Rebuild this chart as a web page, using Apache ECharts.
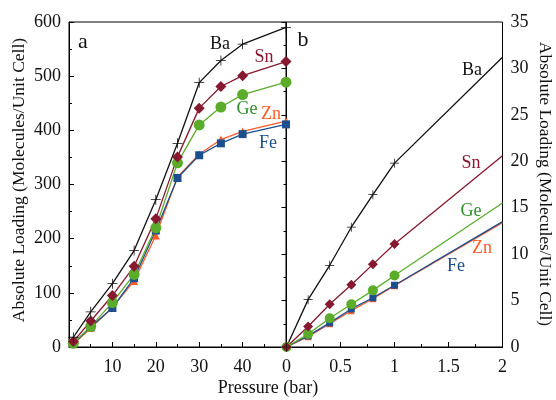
<!DOCTYPE html>
<html>
<head>
<meta charset="utf-8">
<script src="https://cdn.jsdelivr.net/npm/echarts@6/dist/echarts.min.js"></script>
<style>html,body{margin:0;padding:0;background:#fff}#c{width:556px;height:400px}</style>
</head>
<body>
<div id="c"></div>
<script>
// Panel a: pressure (bar) 0-50
const pressureA = [1, 5, 10, 15, 20, 25, 30, 35, 40, 50];
const baA = [18, 65, 117, 178, 272, 376, 488, 529, 559, 590];
const snA = [10, 48, 95, 149, 237, 351, 441, 481, 501, 527];
const geA = [7, 38, 82, 134, 220, 340, 410, 443, 466, 489];
const znA = [5, 35, 73, 122, 206, 314, 356, 383, 398, 417];
const feA = [6, 37, 72, 127, 215, 312, 354, 376, 393, 411];
// Panel b: pressure (bar) 0-2
const pressureB = [0, 0.2, 0.4, 0.6, 0.8, 1.0, 2.0];
const baB = [0, 5.1, 8.8, 12.9, 16.4, 19.8, 31.2];
const snB = [0, 2.2, 4.6, 6.7, 8.9, 11.1, 20.6];
const geB = [0, 1.4, 3.1, 4.6, 6.1, 7.7, 15.5];
const znB = [0, 1.1, 2.5, 3.9, 5.2, 6.6, 13.4];
const feB = [0, 1.2, 2.6, 4.1, 5.3, 6.65, 13.5];
const xTicksA = [10, 20, 30, 40];
const names = ['Ba', 'Sn', 'Ge', 'Zn', 'Fe'];

const FONT = '"Liberation Serif", "DejaVu Serif", serif';
const colors = {Ba: '#111111', Sn: '#86182f', Ge: '#5aac2a', Zn: '#ff5a26', Fe: '#1c4f8e'};
const labelColors = {Ba: '#111111', Sn: '#86182f', Ge: '#2f8f2a', Zn: '#ff5a26', Fe: '#1c4f8e'};
const plusPath = 'path://M4.6,0h0.8v10h-0.8z M0,4.6h10v0.8h-10z';
const symbols = {Ba: plusPath, Sn: 'diamond', Ge: 'circle', Zn: 'triangle', Fe: 'rect'};
const sizes = {Ba: 10, Sn: 11, Ge: 11, Zn: 8, Fe: 8};

function mk(xs, ys) { return xs.map((x, i) => [x, ys[i]]); }
const dataA = {Ba: baA, Sn: snA, Ge: geA, Zn: znA, Fe: feA};
const dataB = {Ba: baB, Sn: snB, Ge: geB, Zn: znB, Fe: feB};

const order = ['Zn', 'Fe', 'Ge', 'Sn', 'Ba'];
const series = [];
order.forEach(n => {
  series.push({
    type: 'line', name: n, xAxisIndex: 0, yAxisIndex: 0,
    data: mk(pressureA, dataA[n]), symbol: symbols[n], symbolSize: sizes[n],
    showAllSymbol: true, clip: false,
    lineStyle: {color: colors[n], width: 1.3}, itemStyle: {color: colors[n]}, animation: false
  });
  series.push({
    type: 'line', name: n + 'b', xAxisIndex: 1, yAxisIndex: 1,
    data: mk(pressureB, dataB[n]).map((d, i) => i === pressureB.length - 1 ? {value: d, symbolSize: 0} : d),
    symbol: symbols[n], symbolSize: sizes[n] - 1, showAllSymbol: true,
    lineStyle: {color: colors[n], width: 1.3}, itemStyle: {color: colors[n]}, animation: false
  });
});

const axisCommon = {
  axisLine: {show: true, lineStyle: {color: '#000', width: 1}},
  axisTick: {show: true, inside: true, length: 5, lineStyle: {color: '#000'}},
  minorTick: {show: true, splitNumber: 2, length: 3, lineStyle: {color: '#000'}},
  splitLine: {show: false},
  axisLabel: {color: '#111', fontFamily: FONT, fontSize: 18, margin: 8}
};
const xLabel = Object.assign({}, axisCommon.axisLabel, {margin: 11});

const labelsPos = [
  ['Ba', 220, 44], ['Sn', 264, 57], ['Ge', 247, 109], ['Zn', 271, 114], ['Fe', 268, 143],
  ['Ba', 472, 70], ['Sn', 471, 163], ['Ge', 471, 211], ['Zn', 482, 248], ['Fe', 456, 266]
];

const graphic = labelsPos.map(([t, x, y]) => ({
  type: 'text', x: x, y: y,
  style: {text: t, fill: labelColors[t], font: '18px ' + FONT, textAlign: 'center', textVerticalAlign: 'middle'}
}));
graphic.push(
  {type: 'text', x: 83, y: 42, style: {text: 'a', fill: '#111', font: '22px ' + FONT, textAlign: 'center', textVerticalAlign: 'middle'}},
  {type: 'text', x: 303, y: 40, style: {text: 'b', fill: '#111', font: '22px ' + FONT, textAlign: 'center', textVerticalAlign: 'middle'}},
  {type: 'text', x: 268, y: 388, style: {text: 'Pressure (bar)', fill: '#111', font: '18px ' + FONT, textAlign: 'center', textVerticalAlign: 'middle'}},
  {type: 'text', x: 19, y: 180, rotation: Math.PI / 2, style: {text: 'Absolute Loading (Molecules/Unit Cell)', fill: '#111', font: '17.5px ' + FONT, textAlign: 'center', textVerticalAlign: 'middle'}},
  {type: 'text', x: 545, y: 184, rotation: -Math.PI / 2, style: {text: 'Absolute Loading (Molecules/Unit Cell)', fill: '#111', font: '17.5px ' + FONT, textAlign: 'center', textVerticalAlign: 'middle'}}
);

const option = {
  backgroundColor: '#fff',
  animation: false,
  grid: [
    {left: 69, top: 22, width: 217, height: 325, show: true, borderColor: '#000', borderWidth: 1, backgroundColor: 'transparent'},
    {left: 286.5, top: 22, width: 216, height: 325, show: true, borderColor: '#000', borderWidth: 1, backgroundColor: 'transparent'}
  ],
  xAxis: [
    Object.assign({}, axisCommon, {type: 'value', gridIndex: 0, min: 0, max: 50, interval: 10,
      axisLabel: Object.assign({}, xLabel, {formatter: v => xTicksA.includes(v) ? String(v) : ''})}),
    Object.assign({}, axisCommon, {type: 'value', gridIndex: 1, min: 0, max: 2, interval: 0.5,
      axisLabel: Object.assign({}, xLabel, {showMaxLabel: true, showMinLabel: true})})
  ],
  yAxis: [
    Object.assign({}, axisCommon, {type: 'value', gridIndex: 0, min: 0, max: 600, interval: 100, position: 'left'}),
    Object.assign({}, axisCommon, {type: 'value', gridIndex: 1, min: 0, max: 35, interval: 5, position: 'right'})
  ],
  series: series,
  graphic: graphic
};
const chart = echarts.init(document.getElementById('c'), null, {renderer: 'canvas'});
chart.setOption(option);
</script>
</body>
</html>
